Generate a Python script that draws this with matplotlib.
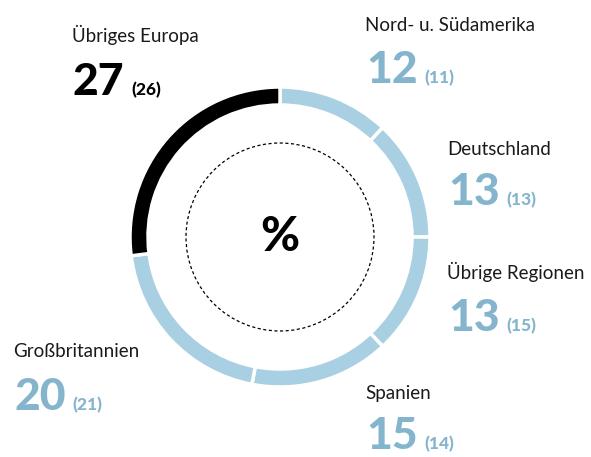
import matplotlib.pyplot as plt
from matplotlib.patches import Circle

plt.rcParams["font.family"] = ["Lato", "DejaVu Sans"]

# Anteile in Prozent, Vorjahr in Klammern
regions = ["Nord- u. Südamerika", "Deutschland", "Übrige Regionen",
           "Spanien", "Großbritannien", "Übriges Europa"]
shares = [12, 13, 13, 15, 20, 27]
prev_shares = [11, 13, 15, 14, 21, 26]

LIGHT = "#a9d0e2"
BLUE = "#85b5cd"
ring_colors = [LIGHT, LIGHT, LIGHT, LIGHT, LIGHT, "black"]
number_colors = [BLUE, BLUE, BLUE, BLUE, BLUE, "black"]

W, H = 591, 457
fig = plt.figure(figsize=(W / 100, H / 100), dpi=100)
ax = fig.add_axes([0, 0, 1, 1])

cx, cy = 280, H - 237
ax.pie(shares, colors=ring_colors, startangle=90, counterclock=False,
       radius=150, center=(cx, cy),
       wedgeprops=dict(width=18, edgecolor="white", linewidth=2.5))
ax.add_patch(Circle((cx, cy), 94, fill=False, edgecolor="black",
                    linewidth=0.9, linestyle=(0, (2.5, 2))))
ax.text(cx, cy, "%", ha="center", va="center", fontsize=34,
        fontweight="black", color="black")

# label position (left x, label baseline, number baseline) in pixels from top
label_pos = [(365, 31, 83), (447, 155, 205), (447, 279, 331),
             (365, 399, 449), (13, 357, 410), (72, 42, 95)]

ax.set_xlim(0, W)
ax.set_ylim(0, H)
ax.set_aspect("equal")
ax.axis("off")

big_texts = []
for name, val, col, (x, yl, yn) in zip(regions, shares, number_colors, label_pos):
    ax.text(x, H - yl, name, ha="left", va="baseline", fontsize=13.5,
            color="#1a1a1a")
    t = ax.text(x + 1, H - yn, str(val), ha="left", va="baseline",
                fontsize=32, fontweight="black", color=col)
    big_texts.append(t)

fig.canvas.draw()
renderer = fig.canvas.get_renderer()
inv = ax.transData.inverted()
for t, prev, col, (x, yl, yn) in zip(big_texts, prev_shares, number_colors, label_pos):
    bb = t.get_window_extent(renderer)
    x1 = inv.transform((bb.x1, bb.y0))[0]
    ax.text(x1 + 7, H - yn, f"({prev})", ha="left", va="baseline",
            fontsize=12.5, fontweight="black", color=col)

fig.savefig("out.png", dpi=100)
